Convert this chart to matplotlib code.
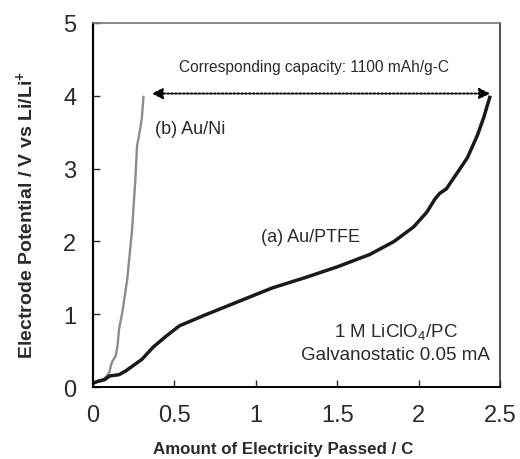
import numpy as np
import matplotlib
matplotlib.use("Agg")
import matplotlib.pyplot as plt

plt.rcParams['font.family'] = ['Liberation Sans', 'DejaVu Sans']
plt.rcParams['mathtext.fontset'] = 'custom'
plt.rcParams['mathtext.rm'] = 'Liberation Sans'
plt.rcParams['mathtext.it'] = 'Liberation Sans'
plt.rcParams['mathtext.bf'] = 'Liberation Sans:bold'

# (a) Au/PTFE electrode, charge passed (C) vs potential (V)
ptfe_q = [0, 0.03, 0.07, 0.10, 0.13, 0.16, 0.20, 0.25, 0.30, 0.37, 0.45, 0.53,
          0.70, 0.90, 1.10, 1.30, 1.50, 1.70, 1.85, 1.97, 2.05, 2.10, 2.13,
          2.17, 2.24, 2.30, 2.36, 2.40, 2.44]
ptfe_v = [0.05, 0.08, 0.10, 0.15, 0.16, 0.17, 0.22, 0.30, 0.38, 0.55, 0.70, 0.84,
          1.00, 1.18, 1.36, 1.50, 1.65, 1.82, 2.00, 2.20, 2.40, 2.58, 2.66,
          2.72, 2.95, 3.15, 3.45, 3.70, 4.00]

# (b) Au/Ni electrode
ni_q = [0, 0.02, 0.05, 0.08, 0.10, 0.11, 0.12, 0.14, 0.15, 0.16, 0.18, 0.21,
        0.24, 0.26, 0.27, 0.29, 0.30, 0.31]
ni_v = [0.05, 0.07, 0.08, 0.14, 0.20, 0.30, 0.36, 0.43, 0.56, 0.80, 1.03, 1.48,
        2.17, 2.86, 3.31, 3.55, 3.70, 4.00]

arrow_q = [0.36, 2.44]
arrow_v = 4.03

fig = plt.figure(figsize=(5.2, 4.6), dpi=100)
ax = fig.add_axes([0.179, 0.1565, 0.7825, 0.7915])

ax.plot(ni_q, ni_v, color='#8c8c8c', lw=1.7, solid_capstyle='butt')
ax.plot(ptfe_q, ptfe_v, color='#1a1a1a', lw=2.5, solid_capstyle='butt')

ax.annotate('', xy=(arrow_q[0], arrow_v), xytext=(arrow_q[1], arrow_v),
            arrowprops=dict(arrowstyle='<|-|>', linestyle=(0, (1, 1)), lw=1.4,
                            color='black', mutation_scale=16, shrinkA=0, shrinkB=0))

txt = '#2a2a2a'
ax.text(1.36, 4.40, 'Corresponding capacity: 1100 mAh/g-C', fontsize=11.2,
        ha='center', va='center', color=txt)
ax.text(0.38, 3.55, '(b) Au/Ni', fontsize=13, ha='left', va='center', color=txt)
ax.text(1.64, 2.07, '(a) Au/PTFE', fontsize=13, ha='right', va='center', color=txt)
ax.text(1.86, 0.77, r'1 M LiClO$_4$/PC', fontsize=13.5, ha='center', va='center', color=txt)
ax.text(1.86, 0.44, 'Galvanostatic 0.05 mA', fontsize=13.5, ha='center', va='center', color=txt)

ax.set_xlim(0, 2.5)
ax.set_ylim(0, 5)
ax.set_xticks([0, 0.5, 1, 1.5, 2, 2.5])
ax.set_xticklabels(['0', '0.5', '1', '1.5', '2', '2.5'])
ax.set_yticks([0, 1, 2, 3, 4, 5])
ax.tick_params(direction='in', length=5, width=1, labelsize=17, colors=txt)
ax.tick_params(axis='x', pad=12)
ax.tick_params(axis='y', pad=12)

ax.set_xlabel('Amount of Electricity Passed / C', fontsize=12.2, fontweight='bold', color=txt)
ax.xaxis.set_label_coords(0.466, -0.17)
ax.xaxis.label.set_verticalalignment('center')
ax.set_ylabel(r'Electrode Potential / V vs Li/Li$^\mathbf{+}$', fontsize=14,
              fontweight='bold', color=txt)
ax.yaxis.set_label_coords(-0.167, 0.475)
ax.yaxis.label.set_verticalalignment('center')

ax.spines['left'].set_linewidth(1.6)
ax.spines['bottom'].set_linewidth(1.4)
ax.spines['right'].set_linewidth(1.2)
ax.spines['top'].set_linewidth(1.2)
ax.spines['top'].set_color('#777777')
ax.spines['right'].set_color('#333333')

fig.savefig('out.png', dpi=100)
